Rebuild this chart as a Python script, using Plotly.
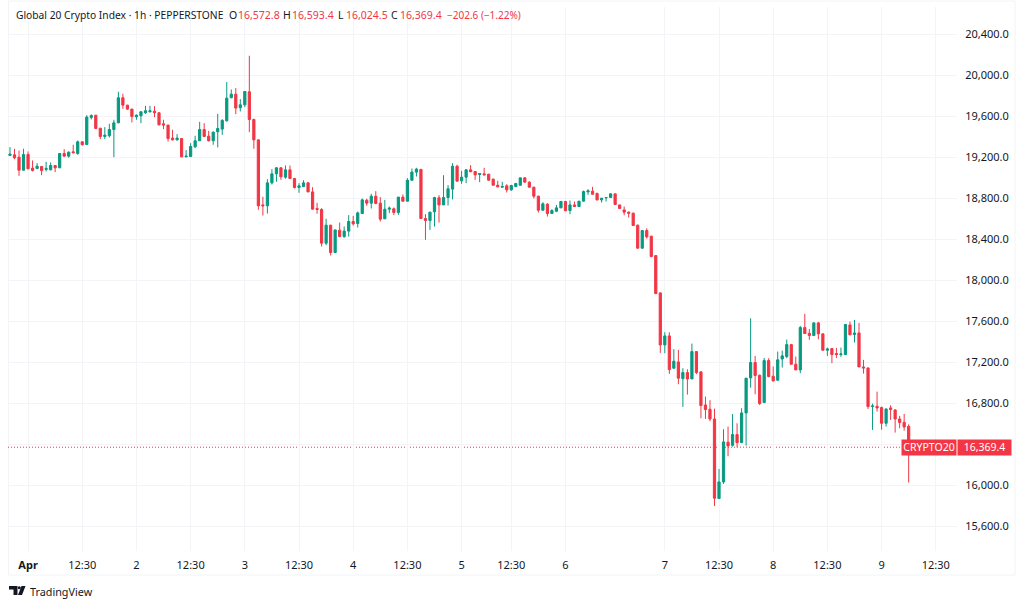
import plotly.graph_objects as go

OPEN = [
19218,19224,19201,19074,19227,19094,19091,19110,19081,19078,
19120,19097,19237,19211,19253,19237,19351,19325,19589,19611,
19484,19403,19410,19471,19536,19781,19709,19670,19595,19605,
19634,19644,19650,19634,19527,19514,19387,19370,19383,19204,
19208,19302,19361,19471,19406,19361,19449,19475,19556,19781,
19816,19683,19712,19839,19569,19370,18735,18726,18950,19038,
19097,19006,19077,18993,18905,18915,18950,18862,18700,18690,
18361,18537,18270,18488,18426,18479,18573,18553,18651,18781,
18752,18820,18752,18599,18693,18697,18661,18811,18771,18976,
19055,19081,18602,18583,18667,18804,18735,18807,18889,19113,
18970,19006,19077,19061,19032,19038,19035,18986,18927,18908,
18921,18882,18914,18927,18999,18957,18908,18820,18683,18742,
18651,18673,18706,18768,18680,18735,18719,18771,18862,18869,
18846,18784,18804,18807,18843,18735,18686,18664,18654,18537,
18312,18485,18430,18240,17876,17368,17456,17140,17202,17039,
17098,17036,17303,17105,16782,16740,16645,15868,16030,16418,
16388,16493,16414,16704,17046,17196,17072,16805,17215,17062,
17023,17231,17254,17371,17179,17124,17537,17482,17459,17583,
17476,17316,17332,17284,17274,17274,17563,17469,17485,17153,
17143,16766,16769,16756,16603,16753,16733,16645,16613,16572.8]

HIGH = [
19299,19283,19266,19283,19257,19169,19143,19110,19156,19149,
19120,19240,19279,19257,19322,19364,19354,19611,19618,19611,
19484,19494,19527,19566,19839,19820,19712,19673,19618,19647,
19702,19702,19699,19641,19566,19517,19468,19426,19384,19270,
19338,19410,19546,19533,19458,19452,19624,19572,19934,19862,
19875,19768,19846,20191,19576,19370,18814,18986,19084,19103,
19103,19120,19120,18999,18947,18976,18960,18908,18755,18703,
18599,18540,18491,18563,18524,18635,18628,18670,18797,18794,
18843,18869,18811,18784,18719,18710,18811,18837,18996,19090,
19097,19087,18644,18667,18814,18830,19025,18928,19142,19126,
19067,19084,19123,19064,19045,19097,19038,18992,18970,18960,
18937,18931,18950,19002,19005,18966,18911,18826,18761,18752,
18693,18735,18774,18774,18778,18768,18774,18875,18888,18911,
18856,18804,18810,18846,18843,18735,18719,18670,18660,18543,
18491,18507,18433,18245,17879,17492,17492,17326,17319,17140,
17130,17381,17306,17108,16864,16828,16746,16157,16545,16571,
16694,16603,16750,17043,17628,17261,17078,17241,17238,17157,
17303,17313,17420,17378,17254,17554,17671,17524,17589,17593,
17482,17342,17339,17339,17342,17573,17596,17612,17583,17222,
17147,16795,16912,16766,16746,16779,16740,16675,16694,16593.4]

LOW = [
19218,19182,19019,19071,19084,19061,19084,19025,19061,19071,
19055,19094,19204,19195,19244,19224,19315,19322,19569,19478,
19377,19377,19393,19201,19533,19673,19663,19540,19566,19533,
19624,19637,19592,19510,19475,19354,19364,19364,19201,19201,
19201,19289,19361,19397,19354,19322,19296,19419,19549,19777,
19621,19647,19689,19445,19283,18687,18631,18651,18934,18960,
18980,18990,18993,18895,18853,18908,18859,18690,18648,18329,
18342,18241,18270,18420,18413,18426,18534,18514,18648,18726,
18700,18742,18573,18599,18654,18635,18638,18771,18771,18970,
19012,18599,18394,18491,18524,18563,18735,18729,18788,18964,
18940,18947,19058,18979,18957,19028,18973,18924,18908,18901,
18856,18872,18908,18924,18953,18904,18797,18660,18683,18621,
18651,18664,18706,18677,18644,18719,18719,18771,18833,18839,
18778,18758,18768,18807,18735,18696,18634,18611,18533,18312,
18312,18406,18224,17866,17290,17287,17085,17140,16984,16763,
16883,17036,17082,16652,16645,16623,15796,15868,16011,16281,
16375,16369,16414,16385,16951,16886,16782,16805,17052,17010,
17023,17147,17238,17179,17124,17091,17479,17417,17459,17423,
17316,17261,17189,17241,17251,17274,17466,17391,17153,17088,
16743,16538,16717,16541,16571,16636,16512,16554,16531,16024.5]

CLOSE = [
19230,19195,19074,19227,19087,19071,19113,19071,19091,19120,
19097,19237,19211,19250,19244,19351,19322,19592,19608,19481,
19403,19416,19471,19536,19781,19709,19670,19598,19611,19644,
19654,19654,19634,19517,19514,19383,19370,19387,19204,19211,
19305,19361,19471,19403,19361,19445,19481,19559,19777,19816,
19680,19712,19842,19569,19370,18726,18726,18950,19038,19097,
19009,19077,18993,18905,18921,18950,18862,18693,18690,18361,
18537,18270,18491,18426,18479,18573,18550,18657,18784,18752,
18820,18749,18596,18693,18703,18661,18811,18771,18976,19055,
19084,18602,18583,18664,18807,18735,18807,18892,19113,18967,
19006,19077,19058,19028,19041,19028,18976,18927,18911,18914,
18882,18924,18944,18999,18957,18908,18820,18683,18745,18651,
18680,18706,18768,18677,18735,18719,18771,18865,18872,18839,
18784,18800,18807,18843,18739,18700,18664,18654,18533,18312,
18485,18423,18231,17869,17368,17456,17127,17209,17043,17098,
17036,17303,17098,16776,16737,16645,15871,16030,16421,16382,
16493,16414,16704,17043,17196,17069,16795,17215,17059,17017,
17222,17261,17371,17179,17124,17537,17479,17459,17583,17476,
17316,17329,17274,17274,17280,17567,17466,17485,17153,17143,
16766,16772,16753,16603,16743,16737,16645,16610,16567,16369.4]

BAR_INDEX = list(range(len(OPEN)))
TIME_TICK_BARS = [4, 16, 28, 40, 52, 64, 76, 88, 100, 111, 123, 145, 157, 169, 181, 193, 205]
TIME_TICK_LABELS = ["<b>Apr</b>", "12:30", "2", "12:30", "3", "12:30", "4", "12:30", "5", "12:30",
                    "6", "7", "12:30", "8", "12:30", "9", "12:30"]
PRICE_TICKS = [20400, 20000, 19600, 19200, 18800, 18400, 18000, 17600, 17200, 16800, 16400, 16000, 15600]
PRICE_TICK_LABELS = ["20,400.0", "20,000.0", "19,600.0", "19,200.0", "18,800.0", "18,400.0", "18,000.0",
                     "17,600.0", "17,200.0", "16,800.0", "", "16,000.0", "15,600.0"]
LAST_PRICE = 16369.4

UP = "#089981"
DOWN = "#F23645"
GRID = "#F3F4F7"
TEXT = "#131722"
FONT = "Noto Sans"

W, H = 1024, 607
L_PX, R_PX, T_PX, B_PX = 8, 957, 7, 551


def px(x):
    return (x - L_PX) / (R_PX - L_PX)


def py(y):
    return (B_PX - y) / (B_PX - T_PX)


fig = go.Figure(go.Candlestick(
    x=BAR_INDEX, open=OPEN, high=HIGH, low=LOW, close=CLOSE,
    increasing=dict(line=dict(color=UP, width=1), fillcolor=UP),
    decreasing=dict(line=dict(color=DOWN, width=1), fillcolor=DOWN),
    whiskerwidth=0, hoverinfo="skip", showlegend=False,
))

shapes = [
    dict(type="rect", xref="paper", yref="paper", x0=px(8.5), x1=px(1015), y0=py(1), y1=py(575),
         line=dict(color=GRID, width=1), fillcolor="rgba(0,0,0,0)", layer="below"),
    dict(type="line", xref="paper", yref="y", x0=0, x1=px(902), y0=LAST_PRICE, y1=LAST_PRICE,
         line=dict(color=DOWN, width=1, dash="1px,2px"), layer="below"),
    # TradingView mark
    dict(type="path", xref="paper", yref="paper", line=dict(width=0), fillcolor=TEXT,
         path=f"M {px(9)} {py(586)} L {px(17.5)} {py(586)} L {px(17.5)} {py(595)} L {px(13.5)} {py(595)} "
              f"L {px(13.5)} {py(589.5)} L {px(9)} {py(589.5)} Z"),
    dict(type="circle", xref="paper", yref="paper", line=dict(width=0), fillcolor=TEXT,
         x0=px(17.8), x1=px(20.8), y0=py(589.2), y1=py(586.2)),
    dict(type="path", xref="paper", yref="paper", line=dict(width=0), fillcolor=TEXT,
         path=f"M {px(21.5)} {py(586)} L {px(25.5)} {py(586)} L {px(22)} {py(595)} L {px(18)} {py(595)} Z"),
]


def label(x, text, color=TEXT, size=10.5):
    return dict(xref="paper", yref="paper", x=px(x - 2), y=py(15), xanchor="left", yanchor="middle",
                text=text, showarrow=False, font=dict(family=FONT, size=size, color=color))


annotations = [
    label(15.5, "Global 20 Crypto Index · 1h · PEPPERSTONE", size=10.25),
    label(229, "O"), label(237.5, "16,572.8", DOWN),
    label(283, "H"), label(291.5, "16,593.4", DOWN),
    label(338, "L"), label(345.5, "16,024.5", DOWN),
    label(391, "C"), label(399.5, "16,369.4", DOWN),
    label(447, "−202.6 (−1.22%)", DOWN, size=10),
    dict(xref="paper", yref="paper", x=px(28), y=py(591), xanchor="left", yanchor="middle",
         text="TradingView", showarrow=False, font=dict(family=FONT, size=10.8, color=TEXT)),
    dict(xref="paper", yref="y", x=px(929.2), y=LAST_PRICE, xanchor="center", yanchor="middle",
         text="CRYPTO20", showarrow=False, bgcolor=DOWN, width=54, height=14.5, borderpad=0,
         font=dict(family=FONT, size=10.5, color="white")),
    dict(xref="paper", yref="y", x=px(984.2), y=LAST_PRICE, xanchor="center", yanchor="middle",
         text="16,369.4", showarrow=False, bgcolor=DOWN, width=53, height=14.5, borderpad=0,
         font=dict(family=FONT, size=10.5, color="white")),
]

fig.update_layout(
    width=W, height=H, autosize=False,
    paper_bgcolor="white", plot_bgcolor="white",
    margin=dict(l=L_PX, r=W - R_PX, t=T_PX, b=H - B_PX, pad=0),
    boxgap=0.3, showlegend=False,
    font=dict(family=FONT, size=10.5, color=TEXT),
    shapes=shapes, annotations=annotations,
    xaxis=dict(
        range=[-0.44, 209.7], rangeslider=dict(visible=False), tickmode="array",
        tickvals=TIME_TICK_BARS, ticktext=TIME_TICK_LABELS, showgrid=True, gridcolor=GRID, gridwidth=1,
        zeroline=False, showline=False, ticks="outside", ticklen=4, tickcolor="rgba(0,0,0,0)",
        tickangle=0, tickfont=dict(family=FONT, size=11, color=TEXT),
    ),
    yaxis=dict(
        range=[15356, 20667], side="right", tickmode="array", tickvals=PRICE_TICKS,
        ticktext=PRICE_TICK_LABELS, showgrid=True, gridcolor=GRID, gridwidth=1, zeroline=False,
        showline=False, ticks="outside", ticklen=5, tickcolor="rgba(0,0,0,0)",
        tickfont=dict(family=FONT, size=11, color=TEXT),
    ),
)

fig.write_html("out.html", config=dict(displayModeBar=False),
               post_script="document.body.style.margin='0';")
